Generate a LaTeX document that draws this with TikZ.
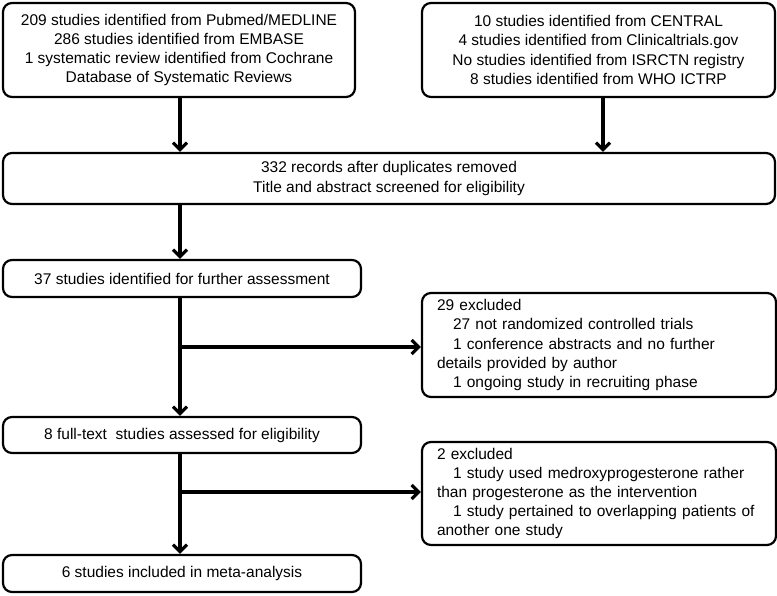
\documentclass[tikz,border=0pt]{standalone}
\usepackage{fontspec}
\setmainfont{Liberation Sans}
\usetikzlibrary{arrows.meta}
\tikzset{
  box/.style={draw, line width=2.2pt, rounded corners=9pt, inner sep=0pt,
    font=\fontsize{15.5}{19.2}\selectfont, align=center},
  lbox/.style={box, align=left, text width=324pt},
  arr/.style={line width=3.2pt, -{Straight Barb[length=7pt,width=14pt,line width=3.2pt]}}
}
\newcommand{\ind}{\hspace*{16pt}}
\begin{document}
\begin{tikzpicture}[x=1pt,y=-1pt]
\useasboundingbox (0,0) rectangle (777,596);
\node[box, minimum width=352pt, minimum height=94pt] (b1) at (179,50)
  {209 studies identified from Pubmed/MEDLINE\\286 studies identified from EMBASE\\1 systematic review identified from Cochrane\\Database of Systematic Reviews};
\node[box, minimum width=353pt, minimum height=94pt] (b2) at (598.5,50)
  {10 studies identified from CENTRAL\\4 studies identified from Clinicaltrials.gov\\No studies identified from ISRCTN registry\\8 studies identified from WHO ICTRP};
\node[box, minimum width=772pt, minimum height=51pt] (b3) at (389,178.5)
  {332 records after duplicates removed\\Title and abstract screened for eligibility};
\node[box, minimum width=358pt, minimum height=37pt] (b4) at (182,278.5)
  {37 studies identified for further assessment};
\node[lbox, minimum width=354pt, minimum height=104pt] (e1) at (599,345)
  {29 excluded\\\ind 27 not randomized controlled trials\\\ind 1 conference abstracts and no further\\details provided by author\\\ind 1 ongoing study in recruiting phase};
\node[box, minimum width=358pt, minimum height=36pt] (b5) at (182,435)
  {8 full-text\ \ studies assessed for eligibility};
\node[lbox, minimum width=354pt, minimum height=103pt] (e2) at (599,493.5)
  {2 excluded\\\ind 1 study used medroxyprogesterone rather\\than progesterone as the intervention\\\ind 1 study pertained to overlapping patients of\\another one study};
\node[box, minimum width=358pt, minimum height=37pt] (b6) at (182,573.5)
  {6 studies included in meta-analysis};
\coordinate (j1) at (180,347);
\coordinate (j2) at (180,492);
\coordinate (j3) at (603,0);
\draw[arr] (b1.south -| j1) -- (b3.north -| j1);
\draw[arr] (b2.south -| j3) -- (b3.north -| j3);
\draw[arr] (b3.south -| j1) -- (b4.north -| j1);
\draw[arr] (b4.south -| j1) -- (b5.north -| j1);
\draw[arr] (j1) -- (e1.west |- j1);
\draw[arr] (b5.south -| j1) -- (b6.north -| j1);
\draw[arr] (j2) -- (e2.west |- j2);
\end{tikzpicture}
\end{document}
